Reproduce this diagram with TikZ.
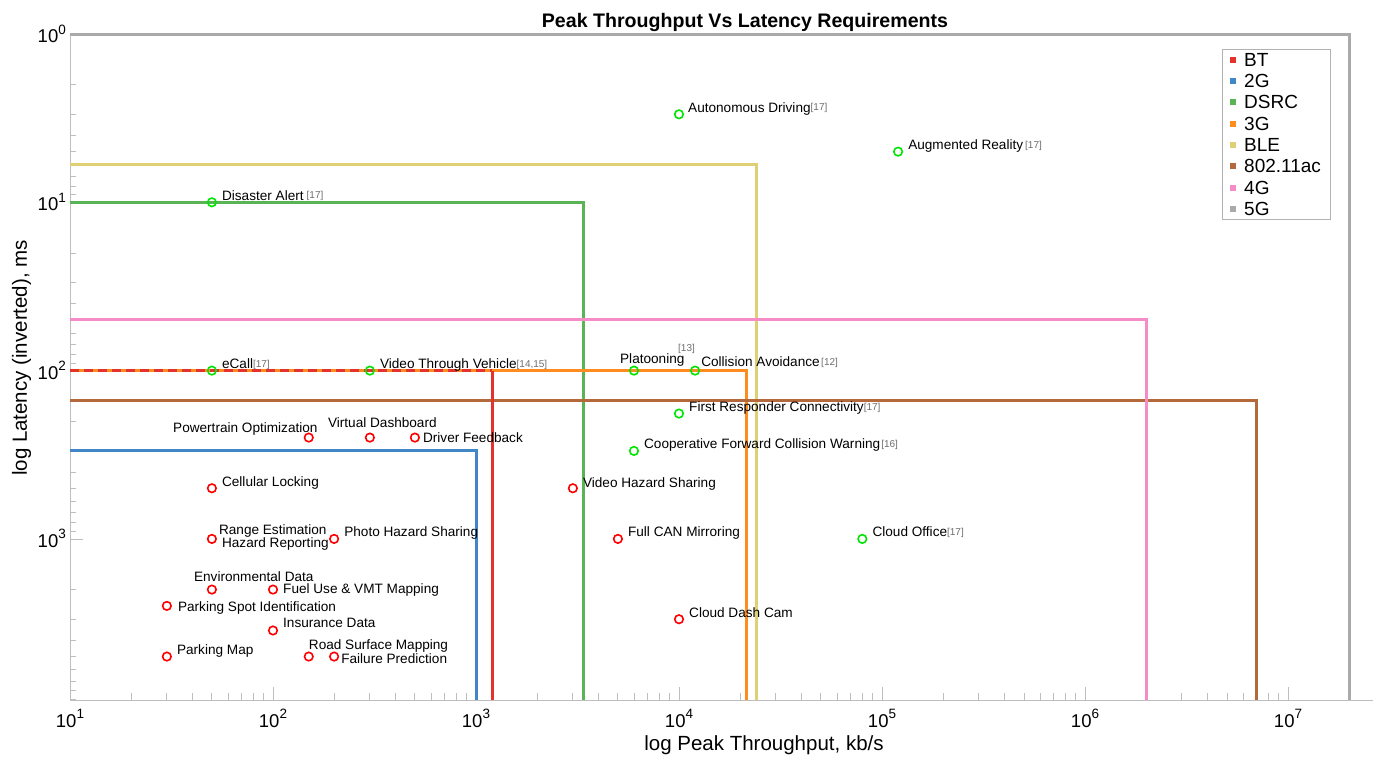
\documentclass[tikz,border=0pt]{standalone}
\usepackage{fontspec}
\setmainfont{Liberation Sans}
\definecolor{cBT}{RGB}{228,50,45}
\definecolor{cTwoG}{RGB}{65,135,200}
\definecolor{cDSRC}{RGB}{90,180,85}
\definecolor{cThreeG}{RGB}{255,140,30}
\definecolor{cBLE}{RGB}{222,208,115}
\definecolor{cWifi}{RGB}{180,105,60}
\definecolor{cFourG}{RGB}{245,140,200}
\definecolor{cFiveG}{RGB}{170,170,170}
\definecolor{ptred}{RGB}{255,0,0}
\definecolor{ptgreen}{RGB}{0,230,0}
\definecolor{refgray}{RGB}{110,110,110}
\definecolor{tickgray}{RGB}{190,190,190}
\newcommand\rf[1]{\raisebox{1.5pt}{\fontsize{10}{10}\selectfont\color{refgray}[#1]}}
\newcommand\tenexp[1]{{\fontsize{18.5}{20}\selectfont 10}\raisebox{8.5pt}{\fontsize{13.5}{14}\selectfont #1}}
\begin{document}
\begin{tikzpicture}[x=1pt,y=-1pt,
  techline/.style={line width=3pt, line join=miter},
  ptbase/.style={circle, line width=1.6pt, minimum size=8.5pt, inner sep=0pt},
  redpt/.style={ptbase, draw=ptred},
  greenpt/.style={ptbase, draw=ptgreen},
  lab/.style={font=\fontsize{13.6}{15}\selectfont, inner sep=0pt, anchor=base west},
  labr/.style={lab, anchor=base east},
  ticks/.style={draw=tickgray, line width=0.8pt},
  ticklab/.style={inner sep=0pt},
  axlab/.style={font=\fontsize{20.5}{22}\selectfont, inner sep=0pt},
  legtext/.style={font=\fontsize{19}{20}\selectfont, inner sep=0pt, anchor=west}]
\useasboundingbox (0,0) rectangle (1373,758);
\fill[white] (0,0) rectangle (1373,758);

% ---- axes and ticks ----
\draw[ticks] (70,34) -- (70,700) -- (1373,700);
\foreach \d in {0,...,3}{
  \foreach \m in {2,...,9}{
    \pgfmathsetmacro\yy{34+168.3*(\d+log10(\m))}
    \draw[ticks] (70,\yy) -- ++(6,0);
  }
  \pgfmathsetmacro\yy{34+168.3*\d}
  \draw[ticks] (70,\yy) -- ++(13,0);
  \node[ticklab, anchor=base east] (yl\d) at (66,\yy+8.5) {\tenexp{\d}};
}
\foreach \d in {1,...,6}{
  \foreach \m in {2,...,9}{
    \pgfmathsetmacro\xx{70+203*(\d-1+log10(\m))}
    \draw[ticks] (\xx,700) -- ++(0,-7);
  }
}
\foreach \d in {1,...,7}{
  \pgfmathsetmacro\xx{70+203*(\d-1)}
  \draw[ticks] (\xx,700) -- ++(0,-13);
  \node[ticklab, anchor=base] (xl\d) at (\xx,727) {\tenexp{\d}};
}

% ---- title and axis labels ----
\node[inner sep=0pt, anchor=base, font=\fontsize{19.6}{21}\selectfont\bfseries] (title) at (745,27) {Peak Throughput Vs Latency Requirements};
\node[axlab, anchor=base] (xlab) at (764,750) {log Peak Throughput, kb/s};
\node[axlab, anchor=base, rotate=90] (ylab) at (27,358) {log Latency (inverted), ms};

% ---- data ----
\begin{scope}[shift={(-133,34)}, x=203pt, y=-168.3pt]
  \draw[techline, cTwoG] (1,2.47712) -- (3,2.47712) -- (3,3.957);
  \draw[techline, cDSRC] (1,1) -- (3.528,1) -- (3.528,3.957);
  \draw[techline, cThreeG] (1,2) -- (4.3345,2) -- (4.3345,3.957);
  \draw[techline, cBLE] (1,0.77815) -- (4.384,0.77815) -- (4.384,3.957);
  \draw[techline, cWifi] (1,2.17609) -- (6.8451,2.17609) -- (6.8451,3.957);
  \draw[techline, cFourG] (1,1.69897) -- (6.30103,1.69897) -- (6.30103,3.957);
  \draw[techline, cFiveG] (1,0) -- (7.30103,0) -- (7.30103,3.957);
  \draw[techline, cBT] (3.07918,2) -- (3.07918,3.957);
  \draw[techline, cBT, dash pattern=on 9pt off 5pt] (1,2) -- (3.07918,2);

  % red points
  \node[redpt] (r1) at (2.17609,2.39794) {};
  \node[redpt] (r2) at (2.47712,2.39794) {};
  \node[redpt] (r3) at (2.69897,2.39794) {};
  \node[redpt] (r4) at (1.69897,2.69897) {};
  \node[redpt] (r5) at (1.69897,3) {};
  \node[redpt] (r6) at (2.30103,3) {};
  \node[redpt] (r7) at (1.69897,3.30103) {};
  \node[redpt] (r8) at (2,3.30103) {};
  \node[redpt] (r9) at (1.47712,3.39794) {};
  \node[redpt] (r10) at (2,3.5441) {};
  \node[redpt] (r11) at (1.47712,3.69897) {};
  \node[redpt] (r12) at (2.17609,3.69897) {};
  \node[redpt] (r13) at (2.30103,3.69897) {};
  \node[redpt] (r14) at (3.47712,2.69897) {};
  \node[redpt] (r15) at (3.69897,3) {};
  \node[redpt] (r16) at (4,3.47712) {};
  % green points
  \node[greenpt] (g1) at (4,0.47712) {};
  \node[greenpt] (g2) at (5.07918,0.69897) {};
  \node[greenpt] (g3) at (1.69897,1) {};
  \node[greenpt] (g4) at (1.69897,2) {};
  \node[greenpt] (g5) at (2.47712,2) {};
  \node[greenpt] (g6) at (3.77815,2) {};
  \node[greenpt] (g7) at (4.07918,2) {};
  \node[greenpt] (g8) at (4,2.25527) {};
  \node[greenpt] (g9) at (3.77815,2.47712) {};
  \node[greenpt] (g10) at (4.90309,3) {};
\end{scope}

% ---- point labels ----
\node[labr] (t1) at ([shift={(9pt,5pt)}]r1.center) {Powertrain Optimization};
\node[lab] (t2) at ([shift={(-42pt,10pt)}]r2.center) {Virtual Dashboard};
\node[lab] (t3) at ([shift={(8pt,-5pt)}]r3.center) {Driver Feedback};
\node[lab] (t4) at ([shift={(10pt,2pt)}]r4.center) {Cellular Locking};
\node[lab] (t5a) at ([shift={(7pt,4pt)}]r5.center) {Range Estimation};
\node[lab] (t5b) at ([shift={(10pt,-9pt)}]r5.center) {Hazard Reporting};
\node[lab] (t6) at ([shift={(10pt,2pt)}]r6.center) {Photo Hazard Sharing};
\node[lab] (t7) at ([shift={(-18pt,8pt)}]r7.center) {Environmental Data};
\node[lab] (t8) at ([shift={(10pt,-4pt)}]r8.center) {Fuel Use \& VMT Mapping};
\node[lab] (t9) at ([shift={(11pt,-6pt)}]r9.center) {Parking Spot Identification};
\node[lab] (t10) at ([shift={(10pt,3pt)}]r10.center) {Insurance Data};
\node[lab] (t11) at ([shift={(10pt,2pt)}]r11.center) {Parking Map};
\node[lab] (t12) at ([shift={(0pt,7pt)}]r12.center) {Road Surface Mapping};
\node[lab] (t13) at ([shift={(7pt,-7pt)}]r13.center) {Failure Prediction};
\node[lab] (t14) at ([shift={(10pt,1pt)}]r14.center) {Video Hazard Sharing};
\node[lab] (t15) at ([shift={(10pt,2pt)}]r15.center) {Full CAN Mirroring};
\node[lab] (t16) at ([shift={(10pt,2pt)}]r16.center) {Cloud Dash Cam};

\node[lab] (s1) at ([shift={(9pt,2pt)}]g1.center) {Autonomous Driving\rf{17}};
\node[lab] (s2) at ([shift={(10pt,2pt)}]g2.center) {Augmented Reality\hspace{2pt}\rf{17}};
\node[lab] (s3) at ([shift={(10pt,2pt)}]g3.center) {Disaster Alert\hspace{3pt}\rf{17}};
\node[lab] (s4) at ([shift={(10pt,2pt)}]g4.center) {eCall\rf{17}};
\node[lab] (s5) at ([shift={(10pt,2pt)}]g5.center) {Video Through Vehicle\rf{14,15}};
\node[lab] (s6) at ([shift={(-14pt,7pt)}]g6.center) {Platooning};
\node[inner sep=0pt, anchor=base west, font=\fontsize{10}{10}\selectfont, text=refgray] (s6r) at ([shift={(44pt,19pt)}]g6.center) {[13]};
\node[lab] (s7) at ([shift={(6pt,4pt)}]g7.center) {Collision Avoidance\hspace{1.5pt}\rf{12}};
\node[lab] (s8) at ([shift={(10pt,2pt)}]g8.center) {First Responder Connectivity\rf{17}};
\node[lab] (s9) at ([shift={(10pt,2pt)}]g9.center) {Cooperative Forward Collision Warning\hspace{1pt}\rf{16}};
\node[lab] (s10) at ([shift={(10pt,2pt)}]g10.center) {Cloud Office\rf{17}};

% ---- legend ----
\draw[draw=black!30, fill=white, line width=0.6pt] (1222,49) rectangle (1330,219);
\foreach \nm/\col [count=\i from 0] in {BT/cBT, 2G/cTwoG, DSRC/cDSRC, 3G/cThreeG, BLE/cBLE, 802.11ac/cWifi, 4G/cFourG, 5G/cFiveG}{
  \pgfmathsetmacro\ly{59.5+21.36*\i}
  \fill[\col] (1230,\ly-3) rectangle (1236,\ly+3);
  \node[legtext] (leg\i) at (1244,\ly) {\nm};
}
\end{tikzpicture}
\end{document}
